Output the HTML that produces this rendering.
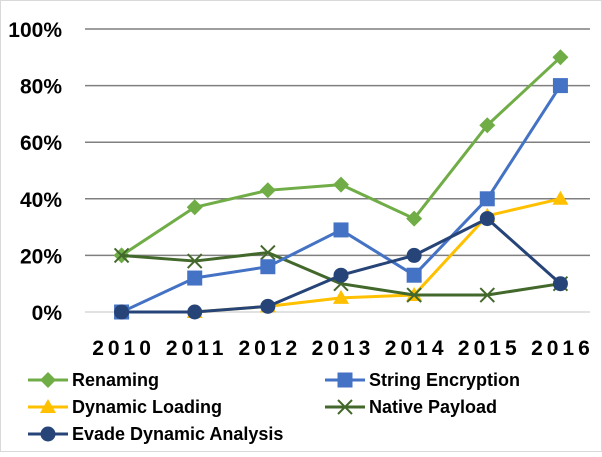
<!DOCTYPE html>
<html><head><meta charset="utf-8"><style>
body{margin:0;background:#fff}
svg text{font-family:"Liberation Sans",sans-serif;font-weight:bold;fill:#000}
</style></head><body>
<svg id="c" width="602" height="452" xmlns="http://www.w3.org/2000/svg">
<rect x="0.5" y="0.5" width="601" height="451" fill="#fff" stroke="#d9d9d9"/>
<g id="grid"></g><g id="series"></g><g id="axes"></g><g id="legend"></g>
</svg>
<script>
const categories=["2010","2011","2012","2013","2014","2015","2016"];
const renaming=[20,37,43,45,33,66,90];
const stringEnc=[0,12,16,29,13,40,80];
const dynLoad=[0,0,2,5,6,34,40];
const nativePay=[20,18,21,10,6,6,10];
const evade=[0,0,2,13,20,33,10];
const yTicks=[0,20,40,60,80,100];
const NS="http://www.w3.org/2000/svg";
const x0=85,x1=597,yb=312,yt=29;
const step=(x1-x0)/categories.length;
function xs(i){return x0+step*(i+0.5);}
function ys(v){return yb-(v/100)*(yb-yt);}
function mk(tag,at,parent){const e=document.createElementNS(NS,tag);for(const k in at)e.setAttribute(k,at[k]);parent.appendChild(e);return e;}
const grid=document.getElementById('grid'),axes=document.getElementById('axes'),ser=document.getElementById('series'),leg=document.getElementById('legend');
yTicks.forEach(t=>{
 const l=mk('line',{x1:x0,x2:590,y1:ys(t),y2:ys(t),stroke:t===0?'#d9d9d9':'#7f7f7f','stroke-width':1.5},grid);
 
 
 const tx=mk('text',{x:62,y:ys(t)+8,'text-anchor':'end','font-size':21},axes);
 tx.textContent=t+'%';
 
 
});
categories.forEach((c,i)=>{
 const tx=mk('text',{x:xs(i)+2,y:355,'text-anchor':'middle','font-size':21,'letter-spacing':'4'},axes);
 tx.textContent=c;
 
 
});
function marker(type,x,y,color,p){
 let e;
 if(type==='diamond')e=mk('polygon',{points:`${x},${y-8} ${x+8},${y} ${x},${y+8} ${x-8},${y}`,fill:color},p);
 else if(type==='square')e=mk('rect',{x:x-7.5,y:y-7.5,width:15,height:15,fill:color},p);
 else if(type==='triangle')e=mk('polygon',{points:`${x},${y-8} ${x+8},${y+6} ${x-8},${y+6}`,fill:color},p);
 else if(type==='x')e=mk('path',{d:`M${x-7} ${y-7}L${x+7} ${y+7}M${x+7} ${y-7}L${x-7} ${y+7}`,stroke:color,'stroke-width':2,fill:'none'},p);
 else e=mk('circle',{cx:x,cy:y,r:7.5,fill:color},p);
 return e;
}
const seriesDefs=[
 {name:'Renaming',data:renaming,color:'#70ad47',m:'diamond',lx:28,ly:380},
 {name:'String Encryption',data:stringEnc,color:'#4472c4',m:'square',lx:325,ly:380},
 {name:'Dynamic Loading',data:dynLoad,color:'#ffc000',m:'triangle',lx:28,ly:407},
 {name:'Native Payload',data:nativePay,color:'#43682b',m:'x',lx:325,ly:407},
 {name:'Evade Dynamic Analysis',data:evade,color:'#264478',m:'circle',lx:28,ly:434}
];
const order=[2,0,3,1,4];
order.forEach(k=>{
 const s=seriesDefs[k];
 const g=mk('g',{},ser);
 
 
 const pts=s.data.map((v,i)=>xs(i)+','+ys(v)).join(' ');
 mk('polyline',{points:pts,fill:'none',stroke:s.color,'stroke-width':3,'stroke-linejoin':'round'},g);
 s.data.forEach((v,i)=>{
  const m=marker(s.m,xs(i),ys(v),s.color,g);
  
  
 });
});
seriesDefs.forEach(s=>{
 const g=mk('g',{},leg);
 
 
 mk('line',{x1:s.lx,x2:s.lx+40,y1:s.ly,y2:s.ly,stroke:s.color,'stroke-width':3},g);
 marker(s.m,s.lx+20,s.ly,s.color,g);
 const t=mk('text',{x:s.lx+44,y:s.ly+6,'font-size':18},g);
 t.textContent=s.name;
});
</script>
</body></html>
